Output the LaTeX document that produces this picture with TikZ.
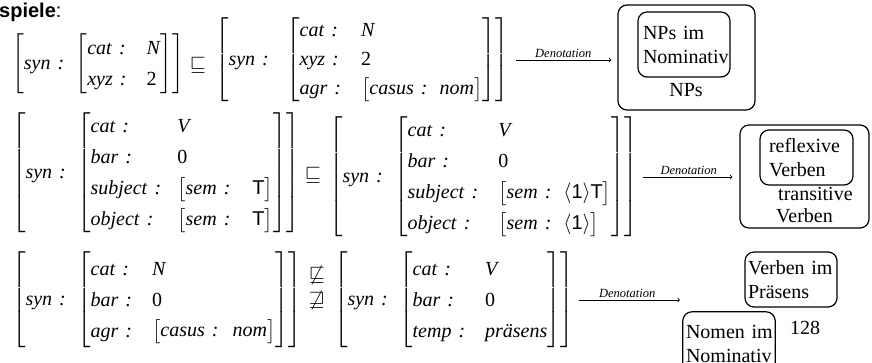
\documentclass[tikz,border=0pt]{standalone}
\usepackage{amssymb}
\usepackage{fontspec}
\setmainfont{Liberation Serif}
\setsansfont{Liberation Sans}
\usetikzlibrary{positioning}

% feature label, feature structure, one-line value
\newcommand{\feat}[1]{\textit{#1}\hspace{7pt}\textit{:}}
\newcommand{\fstr}[2][18pt]{\ensuremath{\left[\begin{tabular}{@{}l@{\hspace{#1}}l@{}}#2\end{tabular}\right]}}
\newcommand{\fval}[2][14pt]{\ensuremath{\renewcommand{\arraystretch}{0.8}\left[\begin{tabular}{@{}l@{\hspace{#1}}l@{}}#2\end{tabular}\right]}}
\newcommand{\topT}{\textsf{T}}
\newcommand{\tagone}{\ensuremath{\langle}\textsf{1}\ensuremath{\rangle}}
\newcommand{\synavm}[2][8pt]{\ensuremath{\left[\feat{syn}\hspace{#1}#2\right]}}

\begin{document}
\begin{tikzpicture}[x=1pt,y=-1pt,>=to,font=\fontsize{20}{31}\selectfont]
    \tikzstyle{avm}=[inner sep=0pt,anchor=west]
    \tikzstyle{setbox}=[draw,rounded corners=9pt,line width=1.2pt]
    \tikzstyle{setlbl}=[inner sep=3pt,inner xsep=1pt,align=left,font=\fontsize{20}{24}\selectfont]
    \tikzstyle{denot}=[->,line width=0.8pt]
    \tikzstyle{denlbl}=[above=1pt,inner sep=1pt,font=\fontsize{12.5}{14}\itshape]
    \useasboundingbox (0,0) rectangle (872,362);
    \clip (0,0) rectangle (872,362);
    \node[anchor=west,inner sep=0pt,font=\fontsize{20}{24}\sffamily] (head) at (-1,12) {\textbf{spiele}:};
    % erste Zeile
    \node[avm] (synNl) at (12,64) {\synavm{\fstr[20pt]{\feat{cat} & \textit{N}\\ \feat{xyz} & 2}}};
    \node (sub1) at (198,65) {$\sqsubseteq$};
    \node[avm,font=\fontsize{20}{29}\selectfont] (synNr) at (215,60) {\synavm[14pt]{\fstr[20pt]{\feat{cat} & \textit{N}\\ \feat{xyz} & 2\\ \feat{agr} & \fval[12pt]{\feat{casus} & \textit{nom}}}}};
    \node[setbox,minimum width=137pt,minimum height=105pt] (nps) at (686.5,57.5) {};
    \node[setbox,setlbl,text width=90pt,minimum height=65pt] (npsnom) at (684,44.5) {\hspace{4pt}NPs im\\\hspace{4pt}Nominativ};
    \node (npslbl) at (686,90) {NPs};
    \draw[denot,shorten <=7pt,shorten >=6pt] (synNr.east) -- (synNr.east -| nps.west)
      node[denlbl,midway] {Denotation};
    % zweite Zeile
    \node[avm] (synVl) at (12,173) {\synavm{\fstr[16pt]{\feat{cat} & \textit{V}\\ \feat{bar} & 0\\
      \feat{subject} & \fval[22pt]{\feat{sem} & \topT}\\ \feat{object} & \fval[22pt]{\feat{sem} & \topT}}}};
    \node (sub2) at (313,175) {$\sqsubseteq$};
    \node[avm] (synVr) at (329,177) {\synavm{\fstr[20pt]{\feat{cat} & \textit{V}\\ \feat{bar} & 0\\
      \feat{subject} & \fval[12pt]{\feat{sem} & \tagone\topT}\\ \feat{object} & \fval[12pt]{\feat{sem} & \tagone}}}};
    \node[setbox,minimum width=129pt,minimum height=103pt] (trans) at (804.5,176.5) {};
    \node[setbox,setlbl,text width=91pt,minimum height=55pt] (refl) at (806.5,157.5) {\hspace{8pt}reflexive\\\hspace{8pt}Verben};
    \node[setlbl,anchor=north west,inner sep=0pt,font=\fontsize{20}{22}\selectfont] (translbl) at (776,187) {\hspace{2pt}transitive\\Verben};
    \draw[denot,shorten <=5pt,shorten >=7pt] (synVr.east) -- (synVr.east -| trans.west)
      node[denlbl,midway] {Denotation};
    % dritte Zeile
    \node[avm] (synNn) at (12,300) {\synavm{\fstr[20pt]{\feat{cat} & \textit{N}\\ \feat{bar} & 0\\
      \feat{agr} & \fval[14pt]{\feat{casus} & \textit{nom}}}}};
    \node[align=center,inner sep=0pt,font=\fontsize{20}{25}\selectfont] (nsub) at (317,288)
      {$\not\sqsubseteq$\\$\not\sqsupseteq$};
    \node[avm] (synVp) at (334,300) {\synavm{\fstr[20pt]{\feat{cat} & \textit{V}\\ \feat{bar} & 0\\
      \feat{temp} & \textit{präsens}}}};
    \coordinate (den3) at (680,300);
    \draw[denot,shorten <=5pt] (synVp.east) -- (den3) node[denlbl,midway] {Denotation};
    \node[setbox,setlbl,text width=90pt,minimum height=55pt] (praes) at (791,279.5) {\hspace{2pt}Verben im\\\hspace{2pt}Präsens};
    \node[setlbl,text width=90pt,minimum height=63pt] (nomnom) at (729,343.5) {\hspace{2pt}Nomen im\\\hspace{2pt}Nominativ};
    \draw[setbox] (nomnom.north west) rectangle ([yshift=-20pt]nomnom.south east);
    \node (page) at (805,328) {128};
\end{tikzpicture}
\end{document}
